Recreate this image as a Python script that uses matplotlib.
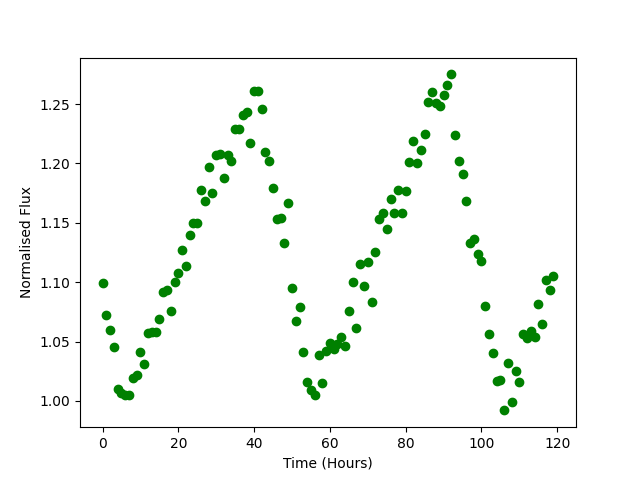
import matplotlib
matplotlib.use('Agg')
import matplotlib.pyplot as plt
import numpy as np

# Tid i timer (0..119)
time_hours = np.arange(120)

# Normalisert fluks, avlest fra referansen
flux = [
    1.099, 1.072, 1.060, 1.045, 1.010, 1.007, 1.005, 1.005, 1.019, 1.022,
    1.041, 1.031, 1.057, 1.058, 1.058, 1.069, 1.092, 1.093, 1.076, 1.100,
    1.108, 1.127, 1.114, 1.140, 1.150, 1.150, 1.178, 1.168, 1.197, 1.175,
    1.207, 1.208, 1.188, 1.207, 1.202, 1.229, 1.229, 1.241, 1.243, 1.217,
    1.261, 1.261, 1.246, 1.210, 1.202, 1.179, 1.153, 1.154, 1.133, 1.167,
    1.095, 1.067, 1.079, 1.041, 1.016, 1.009, 1.005, 1.039, 1.015, 1.042,
    1.049, 1.044, 1.048, 1.054, 1.046, 1.076, 1.100, 1.061, 1.115, 1.097,
    1.117, 1.083, 1.125, 1.153, 1.158, 1.145, 1.170, 1.158, 1.178, 1.158,
    1.177, 1.201, 1.219, 1.200, 1.211, 1.225, 1.252, 1.260, 1.251, 1.248,
    1.258, 1.266, 1.275, 1.224, 1.202, 1.191, 1.168, 1.133, 1.136, 1.124,
    1.118, 1.080, 1.056, 1.040, 1.017, 1.018, 0.992, 1.032, 0.999, 1.025,
    1.016, 1.056, 1.053, 1.059, 1.054, 1.082, 1.065, 1.102, 1.093, 1.105,
]

fig, ax = plt.subplots(figsize=(6.4, 4.8), dpi=100)
ax.plot(time_hours, flux, 'go')
ax.set_xlabel('Time (Hours)')
ax.set_ylabel('Normalised Flux')

fig.savefig('out.png', dpi=100)
plt.close(fig)
